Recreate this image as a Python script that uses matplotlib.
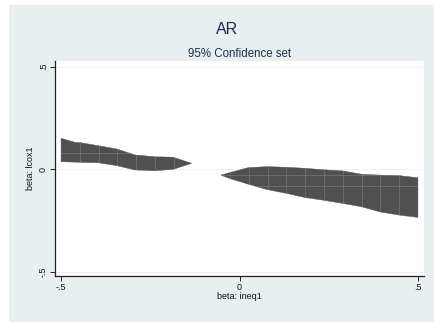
import numpy as np
import matplotlib
matplotlib.use("Agg")
import matplotlib.pyplot as plt
from matplotlib.patches import Polygon, Rectangle

# ---- data ----
left_x = [-0.5, -0.46, -0.447, -0.396, -0.344, -0.293, -0.237, -0.186, -0.134]
left_upper = [0.151, 0.131, 0.130, 0.115, 0.099, 0.070, 0.061, 0.059, 0.029]
left_lower = [0.037, 0.035, 0.034, 0.032, 0.018, -0.003, -0.007, 0.000, 0.029]

right_x = [-0.052, -0.027, 0.024, 0.076, 0.132, 0.183, 0.234, 0.290, 0.342, 0.393, 0.449, 0.5]
right_upper = [-0.028, -0.016, 0.008, 0.013, 0.010, 0.005, -0.002, -0.008, -0.024, -0.028, -0.031, -0.041]
right_lower = [-0.028, -0.045, -0.072, -0.098, -0.117, -0.137, -0.150, -0.166, -0.182, -0.207, -0.223, -0.234]

grid_x = [-0.5 + k / 19 for k in range(1, 19)]
grid_y = [-0.5 + 8 / 19, -0.5 + 9 / 19, -0.5 + 11 / 19]

xticks = [-0.5, 0, 0.5]
xticklabels = ["-.5", "0", ".5"]
yticks = [-0.5, 0, 0.5]
yticklabels = ["-.5", "0", ".5"]

title = "AR"
subtitle = "95% Confidence set"
xlabel = "beta: ineq1"
ylabel = "beta: lcox1"

plt.rcParams['font.family'] = ['Liberation Sans', 'DejaVu Sans']

W, H = 435, 322
fig = plt.figure(figsize=(W / 100, H / 100), dpi=100)
fig.patch.set_facecolor("white")
bg = Rectangle((9 / W, 0), 1 - 9 / W, (H - 5) / H, transform=fig.transFigure,
               facecolor="#e8eff1", edgecolor="none", zorder=-10)
fig.patches.append(bg)

ax = fig.add_axes([55 / W, (H - 276) / H, 369 / W, (276 - 61) / H])
ax.set_facecolor("white")
ax.set_xlim(-0.517, 0.517)
ax.set_ylim(-0.519, 0.527)

for yv in yticks:
    ax.axhline(yv, color="#eeeeee", lw=0.6, zorder=0)

fill_col = "#505050"
line_col = "#787878"
for xs, up, lo in [(left_x, left_upper, left_lower), (right_x, right_upper, right_lower)]:
    xs = np.asarray(xs); up = np.asarray(up); lo = np.asarray(lo)
    verts = np.column_stack([np.concatenate([xs, xs[::-1]]), np.concatenate([up, lo[::-1]])])
    poly = Polygon(verts, closed=True, facecolor=fill_col, edgecolor=fill_col, lw=0.3, zorder=2)
    ax.add_patch(poly)
    for gx in grid_x:
        ln = ax.axvline(gx, color=line_col, lw=0.5, zorder=3)
        ln.set_clip_path(poly)
    for gy in grid_y:
        ln = ax.axhline(gy, color=line_col, lw=0.5, zorder=3)
        ln.set_clip_path(poly)

for s in ["top", "right"]:
    ax.spines[s].set_visible(False)
for s in ["left", "bottom"]:
    ax.spines[s].set_color("#222222")
    ax.spines[s].set_linewidth(0.9)

ax.set_xticks(xticks)
ax.set_xticklabels(xticklabels)
ax.set_yticks(yticks)
ax.set_yticklabels(yticklabels, rotation=90, va="center")
ax.tick_params(axis="both", length=3.5, width=0.7, color="#222222", labelsize=6.5,
               labelcolor="#111111", pad=1.5)

ax.set_xlabel(xlabel, fontsize=6.5, color="#111111", labelpad=0.3)
ax.set_ylabel(ylabel, fontsize=6.5, color="#111111", labelpad=3)

fig.text(227 / W, 1 - 29 / H, title, ha="center", va="center", fontsize=11.5, color="#1f2d4e")
fig.text(240 / W, 1 - 54 / H, subtitle, ha="center", va="center", fontsize=8.3, color="#1f2d4e")

fig.savefig("out.png", dpi=100, facecolor=fig.get_facecolor())
